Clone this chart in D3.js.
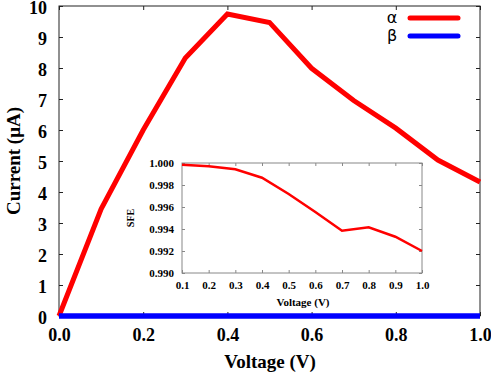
<!DOCTYPE html>
<html lang="en">
  <head>
    <meta charset="UTF-8" />
    <title>Current vs Voltage</title>
    <script src="https://cdn.jsdelivr.net/npm/d3@7"></script>
    <style>
      body { margin: 0; background: #fff; }
      text { font-family: 'Liberation Serif', 'Times New Roman', serif; font-weight: bold; }
    </style>
  </head>
  <body>
    <div class="chart"></div>
    <script>
      // data
      var voltage = [0.0, 0.1, 0.2, 0.3, 0.4, 0.5, 0.6, 0.7, 0.8, 0.9, 1.0]
      var alphaCurrent = [0.0, 3.45, 6.0, 8.32, 9.74, 9.47, 7.99, 6.95, 6.06, 5.03, 4.32]
      var betaCurrent = [0, 0, 0, 0, 0, 0, 0, 0, 0, 0, 0]
      var xTicks = [0.0, 0.2, 0.4, 0.6, 0.8, 1.0]
      var yTicks = [0, 1, 2, 3, 4, 5, 6, 7, 8, 9, 10]

      var insetVoltage = [0.1, 0.2, 0.3, 0.4, 0.5, 0.6, 0.7, 0.8, 0.9, 1.0]
      var sfe = [0.99983, 0.9997, 0.99943, 0.99866, 0.99718, 0.99555, 0.99385, 0.99415, 0.9933, 0.992]
      var insetXTicks = [0.1, 0.2, 0.3, 0.4, 0.5, 0.6, 0.7, 0.8, 0.9, 1.0]
      var insetYTicks = [0.99, 0.992, 0.994, 0.996, 0.998, 1.0]

      var W = 491, H = 373
      var svg = d3.select('.chart').append('svg').attr('width', W).attr('height', H)

      // main plot
      var x = d3.scaleLinear().domain([0, 1]).range([59, 480])
      var y = d3.scaleLinear().domain([0, 10]).range([316, 6])

      var frame = '#222'
      svg.append('rect').attr('x', 59).attr('y', 6).attr('width', 421).attr('height', 310)
        .attr('fill', 'none').attr('stroke', frame).attr('stroke-width', 1)

      var ax = svg.append('g').attr('transform', 'translate(0,316)')
        .call(d3.axisBottom(x).tickValues(xTicks).tickFormat(d3.format('.1f')).tickSize(-4).tickPadding(12))
      ax.select('.domain').remove()
      ax.selectAll('text').style('font-size', '18px').attr('fill', '#000')
      ax.selectAll('line').attr('stroke', frame)

      var axTop = svg.append('g').attr('transform', 'translate(0,6)')
        .call(d3.axisTop(x).tickValues(xTicks).tickSize(-4).tickFormat(''))
      axTop.select('.domain').remove()
      axTop.selectAll('line').attr('stroke', frame)

      var ay = svg.append('g').attr('transform', 'translate(59,0)')
        .call(d3.axisLeft(y).tickValues(yTicks).tickSize(-4).tickPadding(12))
      ay.select('.domain').remove()
      ay.selectAll('text').style('font-size', '18px').attr('fill', '#000').attr('dy', '0.42em')
      ay.selectAll('line').attr('stroke', frame)

      var ayR = svg.append('g').attr('transform', 'translate(480,0)')
        .call(d3.axisRight(y).tickValues(yTicks).tickSize(-4).tickFormat(''))
      ayR.select('.domain').remove()
      ayR.selectAll('line').attr('stroke', frame)

      svg.append('text').attr('x', 270).attr('y', 368).attr('text-anchor', 'middle')
        .style('font-size', '19px').text('Voltage (V)')
      svg.append('text').attr('transform', 'translate(20,161) rotate(-90)').attr('text-anchor', 'middle')
        .style('font-size', '19px').text('Current (μA)')

      var line = d3.line().x((d, i) => x(voltage[i])).y((d) => y(d))
      svg.append('path').datum(alphaCurrent).attr('d', line)
        .attr('fill', 'none').attr('stroke', '#ff0000').attr('stroke-width', 5)
      svg.append('path').datum(betaCurrent).attr('d', line)
        .attr('fill', 'none').attr('stroke', '#0000ff').attr('stroke-width', 5.5)

      // legend
      var legend = [['α', '#ff0000'], ['β', '#0000ff']]
      legend.forEach((l, i) => {
        var ly = 18 + i * 18
        svg.append('text').attr('x', 392).attr('y', ly + 5).attr('text-anchor', 'middle')
          .style('font-family', "'DejaVu Sans', sans-serif").style('font-weight', 'normal')
          .style('font-size', '16px').text(l[0])
        svg.append('line').attr('x1', 410).attr('x2', 458).attr('y1', ly).attr('y2', ly)
          .attr('stroke', l[1]).attr('stroke-width', 5).attr('stroke-linecap', 'round')
      })

      // inset
      var ix = d3.scaleLinear().domain([0.1, 1.0]).range([182, 422])
      var iy = d3.scaleLinear().domain([0.99, 1.0]).range([273, 163])
      var inset = svg.append('g')
      inset.append('rect').attr('x', 182).attr('y', 163).attr('width', 240).attr('height', 110)
        .attr('fill', '#fff').attr('stroke', '#888').attr('stroke-width', 1)

      var iax = inset.append('g').attr('transform', 'translate(0,273)')
        .call(d3.axisBottom(ix).tickValues(insetXTicks).tickFormat(d3.format('.1f')).tickSize(-3).tickPadding(8))
      iax.select('.domain').remove()
      iax.selectAll('text').style('font-size', '11px').attr('fill', '#000')
      iax.selectAll('line').attr('stroke', '#888')

      var iaxT = inset.append('g').attr('transform', 'translate(0,163)')
        .call(d3.axisTop(ix).tickValues(insetXTicks).tickSize(-3).tickFormat(''))
      iaxT.select('.domain').remove()
      iaxT.selectAll('line').attr('stroke', '#888')

      var iay = inset.append('g').attr('transform', 'translate(182,0)')
        .call(d3.axisLeft(iy).tickValues(insetYTicks).tickFormat(d3.format('.3f')).tickSize(-3).tickPadding(8))
      iay.select('.domain').remove()
      iay.selectAll('text').style('font-size', '11px').attr('fill', '#000')
      iay.selectAll('line').attr('stroke', '#888')

      var iayR = inset.append('g').attr('transform', 'translate(422,0)')
        .call(d3.axisRight(iy).tickValues(insetYTicks).tickSize(-3).tickFormat(''))
      iayR.select('.domain').remove()
      iayR.selectAll('line').attr('stroke', '#888')

      inset.append('text').attr('x', 303).attr('y', 306).attr('text-anchor', 'middle')
        .style('font-size', '11px').text('Voltage (V)')
      inset.append('text').attr('transform', 'translate(134,218) rotate(-90)').attr('text-anchor', 'middle')
        .style('font-size', '10px').text('SFE')

      var iline = d3.line().x((d, i) => ix(insetVoltage[i])).y((d) => iy(d))
      inset.append('path').datum(sfe).attr('d', iline)
        .attr('fill', 'none').attr('stroke', '#ff0000').attr('stroke-width', 2.5)
    </script>
  </body>
</html>
